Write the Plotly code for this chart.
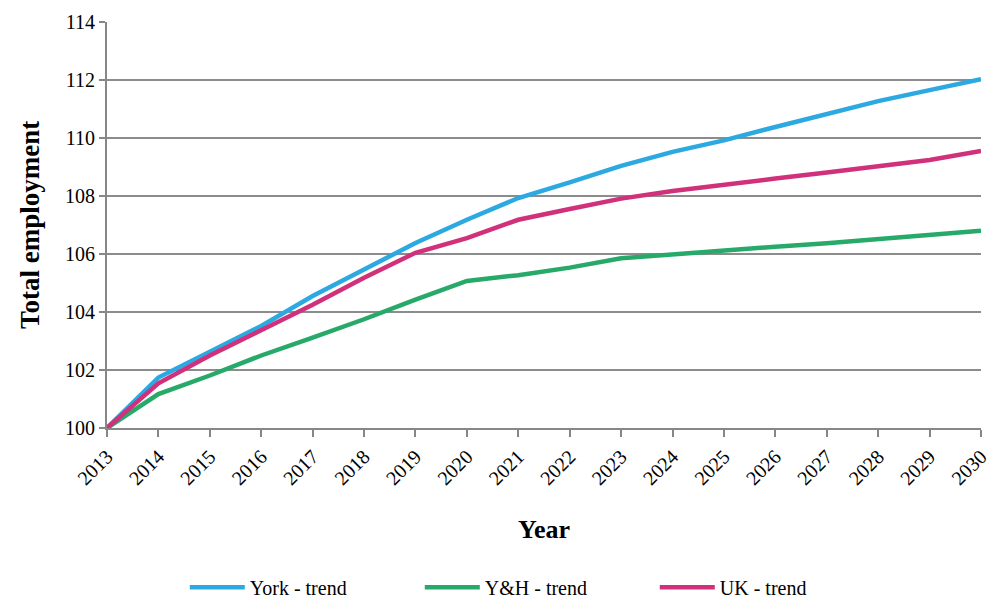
import plotly.graph_objects as go

years = list(range(2013, 2031))
york = [100, 101.74, 102.63, 103.52, 104.55, 105.46, 106.38, 107.18, 107.93, 108.47,
        109.04, 109.52, 109.92, 110.38, 110.84, 111.27, 111.65, 112.03]
yh = [100, 101.17, 101.81, 102.50, 103.12, 103.75, 104.43, 105.07, 105.27, 105.53,
      105.85, 105.99, 106.10, 106.25, 106.37, 106.51, 106.63, 106.80]
uk = [100, 101.54, 102.50, 103.36, 104.25, 105.18, 106.04, 106.55, 107.18, 107.55,
      107.91, 108.17, 108.37, 108.60, 108.81, 109.03, 109.24, 109.55]
y_ticks = [100, 102, 104, 106, 108, 110, 112, 114]

series = [("York - trend", york, "#2CA9E1"),
          ("Y&H - trend", yh, "#27A96A"),
          ("UK - trend", uk, "#D0317A")]

fig = go.Figure()
for name, vals, col in series:
    fig.add_trace(go.Scatter(x=years, y=vals, name=name, mode="lines",
                             line=dict(color=col, width=4.5)))

FONT = "Liberation Serif"
fig.update_layout(
    width=987, height=612,
    margin=dict(l=107, r=6, t=22, b=181),
    paper_bgcolor="white", plot_bgcolor="white",
    font=dict(family=FONT, size=20, color="black"),
    showlegend=True,
    legend=dict(orientation="h", x=0.089, xanchor="left", y=-0.44, yanchor="bottom",
                font=dict(family=FONT, size=20, color="black"),
                entrywidth=165, entrywidthmode="pixels", itemwidth=55,
                tracegroupgap=0),
    xaxis=dict(range=[2013, 2030], tickmode="array", tickvals=years,
               ticktext=[str(y) for y in years], tickangle=-45,
               ticklabeloverflow="allow", automargin=False,
               showgrid=False, showline=True, linecolor="#878787", linewidth=2,
               ticks="outside", ticklen=7, tickcolor="#878787", tickwidth=1.5,
               tickfont=dict(family=FONT, size=20, color="black"),
               title=dict(text="<b>Year</b>", font=dict(family=FONT, size=26, color="black"),
                          standoff=32),
               zeroline=False),
    yaxis=dict(range=[100, 114], tickmode="array", tickvals=y_ticks, automargin=False,
               showgrid=True, gridcolor="#8C8C8C", gridwidth=1.5,
               showline=True, linecolor="#878787", linewidth=2,
               ticks="outside", ticklen=6, tickcolor="#878787", tickwidth=1.5,
               tickfont=dict(family=FONT, size=20, color="black"),
               title=dict(text="<b>Total employment</b>",
                          font=dict(family=FONT, size=27, color="black"), standoff=18),
               zeroline=False),
)

fig.write_html("out.html")
